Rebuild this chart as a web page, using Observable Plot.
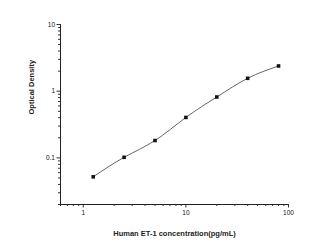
<!DOCTYPE html>
<html><head><meta charset="utf-8">
<script src="https://cdn.jsdelivr.net/npm/d3@7"></script>
<script src="https://cdn.jsdelivr.net/npm/@observablehq/plot@0.6"></script>
<style>
html,body{margin:0;padding:0;background:#fff;}
#chart svg{display:block;}
</style></head>
<body><div id="chart"></div>
<script>
const concentration = [1.25, 2.5, 5, 10, 20, 40, 80];
const opticalDensity = [0.052, 0.102, 0.182, 0.404, 0.818, 1.56, 2.39];
const xMajorTicks = [1, 10, 100];
const xMinorTicks = [0.6,0.7,0.8,0.9,2,3,4,5,6,7,8,9,20,30,40,50,60,70,80,90];
const yMajorTicks = [0.1, 1, 10];
const yMinorTicks = [0.02,0.03,0.04,0.05,0.06,0.07,0.08,0.09,0.2,0.3,0.4,0.5,0.6,0.7,0.8,0.9,2,3,4,5,6,7,8,9];
const xTitle = "Human ET-1 concentration(pg/mL)";
const yTitle = "Optical Density";

const data = concentration.map((c, i) => ({c, od: opticalDensity[i]}));
const fmt = d => String(d);

const chart = Plot.plot({
  width: 323, height: 244,
  marginLeft: 60, marginRight: 35, marginTop: 24, marginBottom: 40,
  style: {fontFamily: "'Liberation Sans', Arial, sans-serif", color: "#222", background: "#fff"},
  x: {type: "log", domain: [0.6, 100]},
  y: {type: "log", domain: [0.02, 10]},
  marks: [
    Plot.axisX({ticks: xMinorTicks, tickSize: 2, text: null, stroke: "#333", label: null}),
    Plot.axisX({ticks: xMajorTicks, tickSize: 3.5, tickFormat: fmt, stroke: "#333", fill: "#111", fontSize: 6.5, tickPadding: 2, label: null}),
    Plot.axisY({ticks: yMinorTicks, tickSize: 2, text: null, stroke: "#333", label: null}),
    Plot.axisY({ticks: yMajorTicks, tickSize: 3.5, tickFormat: fmt, stroke: "#333", fill: "#111", fontSize: 6.5, tickPadding: 2, label: null}),
    Plot.ruleY([0.02], {stroke: "#222", strokeWidth: 1}),
    Plot.ruleX([0.6], {stroke: "#222", strokeWidth: 1}),
    Plot.line(data, {x: "c", y: "od", curve: "natural", stroke: "#666", strokeWidth: 1}),
    Plot.dot(data, {x: "c", y: "od", symbol: "square", r: 2, fill: "#111", stroke: null}),
    Plot.text([xTitle], {frameAnchor: "bottom", dy: 31, text: d => d, fontWeight: "bold", fontSize: 7.5, fill: "#222"}),
    Plot.text([yTitle], {frameAnchor: "left", dx: -29, rotate: -90, text: d => d, fontWeight: "bold", fontSize: 7.5, fill: "#222"})
  ]
});
document.getElementById("chart").appendChild(chart);
</script>
</body></html>
